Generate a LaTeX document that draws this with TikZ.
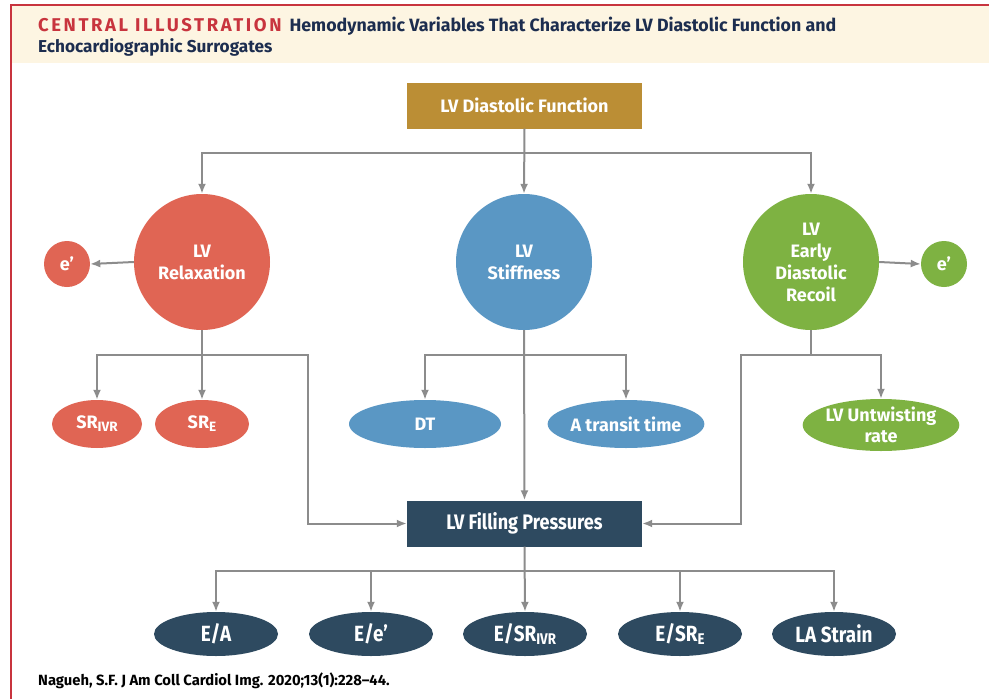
\documentclass[tikz,border=0pt]{standalone}
\usepackage{fontspec}
\setmainfont{Fira Sans}
\newfontfamily\condfont[FakeStretch=0.86]{Fira Sans}
\newfontfamily\spacedfont[LetterSpace=14]{Fira Sans}
\usetikzlibrary{arrows.meta,shapes.geometric}
\definecolor{frame}{HTML}{C8343E}
\definecolor{hdr}{HTML}{FDF5E2}
\definecolor{navy}{HTML}{1C2D4F}
\definecolor{gold}{HTML}{BB8E35}
\definecolor{relred}{HTML}{E06554}
\definecolor{stblue}{HTML}{5A97C4}
\definecolor{recgreen}{HTML}{7EB242}
\definecolor{slate}{HTML}{2E4A60}
\definecolor{conn}{HTML}{8C8C8C}
\begin{document}
\begin{tikzpicture}[x=1pt,y=-1pt,
  lbl/.style={text=white, font=\fontsize{18}{22}\selectfont\bfseries, align=center},
  rectbox/.style={lbl, rectangle, inner sep=0pt, minimum width=235pt, minimum height=46pt},
  bigcirc/.style={lbl, circle, inner sep=0pt, minimum size=136pt},
  smallcirc/.style={lbl, circle, inner sep=0pt, minimum size=46pt},
  oval/.style={lbl, ellipse, inner sep=0pt, minimum height=48pt},
  botoval/.style={text=white, font=\condfont\fontsize{22}{24}\selectfont\bfseries, ellipse, inner sep=0pt, minimum width=124pt, minimum height=44pt, fill=slate},
  arr/.style={draw=conn, line width=2pt, -{Latex[length=10pt,width=8pt]}},
  ln/.style={draw=conn, line width=2pt}
]
\useasboundingbox (0,0) rectangle (989,699);
\fill[white] (0,0) rectangle (989,699);
\fill[hdr] (11,6) rectangle (989,63);
\draw[frame, line width=2.5pt] (11,699) -- (11,5) -- (989,5);

% title
\node[anchor=base west, inner sep=0pt] (title1) at (38,31)
  {{\spacedfont\fontsize{18.5}{20}\selectfont\bfseries\textcolor{frame}{CENTRAL ILLUSTRATION}}\hspace{8pt}{\fontsize{17.8}{20}\selectfont\bfseries\textcolor{navy}{Hemodynamic Variables That Characterize LV Diastolic Function and}}};
\node[anchor=base west, inner sep=0pt] (title2) at (38,52)
  {\fontsize{17.2}{20}\selectfont\bfseries\textcolor{navy}{Echocardiographic Surrogates}};

% nodes
\node[rectbox, fill=gold] (ldf) at (524.5,105.5) {LV Diastolic Function};
\node[bigcirc, fill=relred] (relax) at (202,262) {LV\\Relaxation};
\node[bigcirc, fill=stblue] (stiff) at (524,262) {LV\\Stiffness};
\node[bigcirc, fill=recgreen] (recoil) at (811,262) {LV\\Early\\Diastolic\\Recoil};
\node[smallcirc, fill=relred] (eL) at (67,264) {e’};
\node[smallcirc, fill=recgreen] (eR) at (944,264) {e’};

\node[oval, fill=relred, minimum width=90pt] (srivr) at (97,424) {SR\raisebox{-0.3ex}{\fontsize{13.5}{13.5}\selectfont IVR}};
\node[oval, fill=relred, minimum width=94pt] (sre) at (202,424) {SR\raisebox{-0.3ex}{\fontsize{13.5}{13.5}\selectfont E}};
\node[oval, fill=stblue, minimum width=152pt] (dt) at (425,424) {DT};
\node[oval, fill=stblue, minimum width=152pt] (atr) at (626,424) {A transit time};
\node[oval, fill=recgreen, minimum width=152pt, minimum height=52pt, font=\fontsize{18}{21.5}\selectfont\bfseries] (lvur) at (881,425) {LV Untwisting\\rate};

\node[rectbox, fill=slate, font=\condfont\fontsize{21}{24}\selectfont\bfseries] (lvfp) at (524.5,523.5) {LV Filling Pressures};

\node[botoval] (ea) at (216,634) {E/A};
\node[botoval] (ee) at (371,634) {E/e’};
\node[botoval] (esrivr) at (525,634) {E/SR\raisebox{-0.3ex}{\fontsize{15.5}{15.5}\selectfont IVR}};
\node[botoval] (esre) at (680,634) {E/SR\raisebox{-0.3ex}{\fontsize{15.5}{15.5}\selectfont E}};
\node[botoval] (las) at (834,634) {LA Strain};

\node[anchor=base west, inner sep=0pt, font=\fontsize{14.8}{16}\selectfont\bfseries, text=black] (cite) at (38,685) {Nagueh, S.F. J Am Coll Cardiol Img. 2020;13(1):228–44.};

% junctions
\coordinate (j1) at (524.5,153);
\coordinate (j2) at (202,355);
\coordinate (j3) at (524,355);
\coordinate (j4) at (811,355);
\coordinate (j5) at (524.5,571);
\coordinate (c1) at (308,355);
\coordinate (c2) at (308,523.5);
\coordinate (c3) at (741,355);
\coordinate (c4) at (741,523.5);

% connectors
\draw[arr] (ldf.south) -- (stiff.north);
\draw[arr] (j1) -| (relax.north);
\draw[arr] (j1) -| (recoil.north);
\draw[arr] (relax.west) -- (eL.east);
\draw[arr] (recoil.east) -- (eR.west);

\draw[ln] (relax.south) -- (j2);
\draw[arr] (j2) -- (sre.north);
\draw[arr] (j2) -| (srivr.north);
\draw[arr] (j2) -- (c1) -- (c2) -- (lvfp.west);

\draw[arr] (stiff.south) -- (lvfp.north);
\draw[arr] (j3) -| (dt.north);
\draw[arr] (j3) -| (atr.north);

\draw[ln] (recoil.south) -- (j4);
\draw[arr] (j4) -| (lvur.north);
\draw[arr] (j4) -- (c3) -- (c4) -- (lvfp.east);

\draw[arr] (lvfp.south) -- (esrivr.north);
\draw[arr] (j5) -| (ea.north);
\draw[arr] (j5) -| (ee.north);
\draw[arr] (j5) -| (esre.north);
\draw[arr] (j5) -| (las.north);
\end{tikzpicture}
\end{document}
